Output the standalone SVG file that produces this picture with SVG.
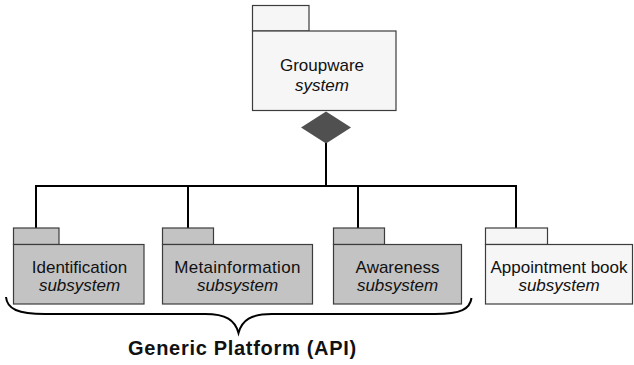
<svg xmlns="http://www.w3.org/2000/svg" width="634" height="365" viewBox="0 0 634 365">
  <style>
    .pkg { stroke: #3c3c3c; stroke-width: 1.2; }
    .light { fill: #f6f6f6; }
    .grey { fill: #c3c3c3; }
    .name { font-family: "Liberation Sans", Arial, sans-serif; font-size: 17px; fill: #111; text-anchor: middle; }
    .kind { font-family: "Liberation Sans", Arial, sans-serif; font-size: 17px; font-style: italic; fill: #111; text-anchor: middle; }
    .wire { fill: none; stroke: #000; stroke-width: 2; }
    .label { font-family: "Liberation Sans", Arial, sans-serif; font-size: 20px; font-weight: bold; fill: #111; text-anchor: middle; letter-spacing: 0.7px; }
  </style>
  <rect width="634" height="365" fill="#ffffff"/>

  <!-- composition connectors -->
  <g id="connectors">
    <polygon points="301,127.5 326,111.5 351,127.5 326,143.5" fill="#505050"/>
    <path class="wire" d="M326,143 V186"/>
    <path class="wire" d="M36,186 H516"/>
    <path class="wire" d="M36,185 V228"/>
    <path class="wire" d="M188,185 V228"/>
    <path class="wire" d="M358,185 V228"/>
    <path class="wire" d="M516,185 V228"/>
  </g>

  <g id="groupware">
    <rect class="pkg light" x="252.5" y="5.5" width="56.5" height="25.5"/>
    <rect class="pkg light" x="252.5" y="31" width="143.5" height="79.5"/>
    <text class="name" x="322" y="70.5">Groupware</text>
    <text class="kind" x="322" y="90.5">system</text>
  </g>

  <g id="identification">
    <rect class="pkg grey" x="13.5" y="228" width="45.5" height="16.5"/>
    <rect class="pkg grey" x="13.5" y="244.5" width="130.5" height="59.5"/>
    <text class="name" x="79.5" y="272.5">Identification</text>
    <text class="kind" x="79.5" y="291">subsystem</text>
  </g>

  <g id="metainformation">
    <rect class="pkg grey" x="162.5" y="228" width="51" height="16.5"/>
    <rect class="pkg grey" x="162.5" y="244.5" width="150" height="59.5"/>
    <text class="name" x="237.5" y="272.5" letter-spacing="0.3">Metainformation</text>
    <text class="kind" x="237.5" y="291">subsystem</text>
  </g>

  <g id="awareness">
    <rect class="pkg grey" x="333.5" y="228" width="51" height="16.5"/>
    <rect class="pkg grey" x="333.5" y="244.5" width="128" height="59.5"/>
    <text class="name" x="397.5" y="272.5">Awareness</text>
    <text class="kind" x="397.5" y="291">subsystem</text>
  </g>

  <g id="appointment-book">
    <rect class="pkg light" x="485.5" y="228" width="62" height="16.5"/>
    <rect class="pkg light" x="485.5" y="244.5" width="147" height="59.5"/>
    <text class="name" x="559" y="272.5">Appointment book</text>
    <text class="kind" x="559" y="291">subsystem</text>
  </g>

  <!-- brace grouping the platform subsystems -->
  <g id="platform">
    <path class="wire" d="M6,297 C7,309 18,314 45,314 L205,314 C226,314 235,320 238.5,333 C242,320 251,314 272,314 L435,314 C461,314 470,309 471.5,298"/>
    <text class="label" x="242.5" y="355">Generic Platform (API)</text>
  </g>
</svg>
